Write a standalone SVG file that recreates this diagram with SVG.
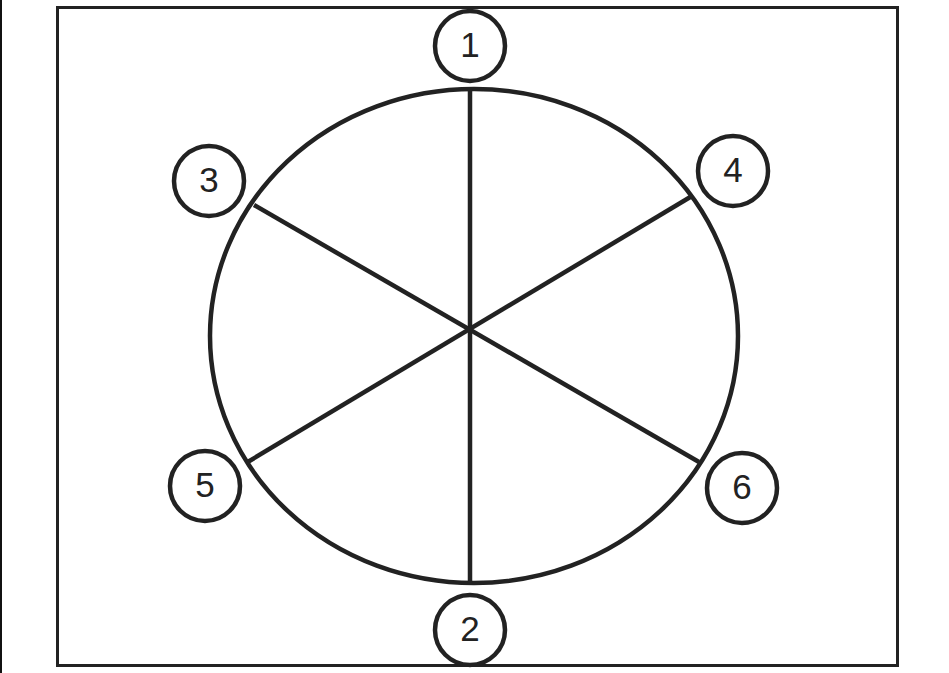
<svg xmlns="http://www.w3.org/2000/svg" width="949" height="673" viewBox="0 0 949 673">
<style>
.ln{stroke:#222;stroke-width:4.5;fill:none;stroke-linecap:butt}
.nd{stroke:#222;stroke-width:4.5;fill:#fff}
.tx{font-family:"Liberation Sans",Arial,sans-serif;font-size:35px;fill:#222;text-anchor:middle;dominant-baseline:central}
</style>
<rect width="949" height="673" fill="#fff"/>
<line x1="1" y1="0" x2="1" y2="673" stroke="#111" stroke-width="2"/>
<rect x="57.5" y="7.5" width="840" height="658" fill="none" stroke="#222" stroke-width="3"/>
<g id="connectors">
<ellipse class="ln" cx="474" cy="336" rx="264" ry="247"/>
<line class="ln" x1="470" y1="89" x2="470" y2="584"/>
<line class="ln" x1="254" y1="205" x2="699" y2="462"/>
<line class="ln" x1="692" y1="196" x2="246" y2="463"/>
</g>
<g id="n1"><circle class="nd" cx="470" cy="46" r="35"/><text class="tx" x="470" y="44">1</text></g>
<g id="n2"><circle class="nd" cx="470" cy="630" r="35"/><text class="tx" x="470" y="628">2</text></g>
<g id="n3"><circle class="nd" cx="209" cy="181" r="35"/><text class="tx" x="209" y="179">3</text></g>
<g id="n4"><circle class="nd" cx="733" cy="171" r="35"/><text class="tx" x="733" y="169">4</text></g>
<g id="n5"><circle class="nd" cx="205" cy="486" r="35"/><text class="tx" x="205" y="484">5</text></g>
<g id="n6"><circle class="nd" cx="742" cy="488" r="35"/><text class="tx" x="742" y="486">6</text></g>
</svg>
